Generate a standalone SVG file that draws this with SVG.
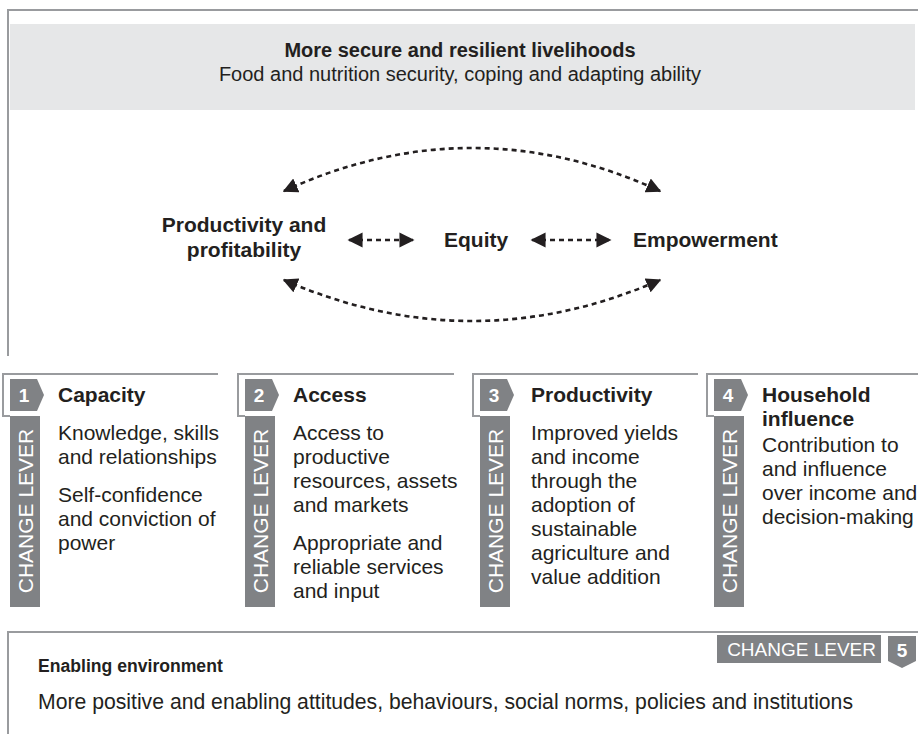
<svg xmlns="http://www.w3.org/2000/svg" width="918" height="734" viewBox="0 0 918 734">
<defs>
<style>
text{font-family:"Liberation Sans",Arial,sans-serif;fill:#231f20}
.b{font-weight:bold}
.t20{font-size:20px}
.t21{font-size:21px}
.frame{fill:none;stroke:#999b9e;stroke-width:2}
.bar{fill:#808285}
.wt{fill:#ffffff;font-size:21px}
.wt19{fill:#ffffff;font-size:19px}
.num{fill:#ffffff;font-size:19px;font-weight:bold}
.dash{fill:none;stroke:#231f20;stroke-width:2.6;stroke-dasharray:5 4}
</style>
<marker id="ah" viewBox="0 0 10 10" refX="9" refY="5" markerWidth="5.8" markerHeight="5.8" orient="auto-start-reverse" markerUnits="strokeWidth">
<path d="M0,0 L10,5 L0,10 z" fill="#231f20"/>
</marker>
</defs>
<rect width="918" height="734" fill="#ffffff"/>

<g id="outcome">
<path class="frame" d="M8 356 V10 H918"/>
<rect x="10" y="24" width="905" height="86" fill="#e6e7e8"/>
<text class="b t20" x="460" y="57" text-anchor="middle">More secure and resilient livelihoods</text>
<text class="t20" x="460" y="81" text-anchor="middle">Food and nutrition security, coping and adapting ability</text>
</g>

<g id="productivity-profitability">
<text class="b t21" x="244" y="232" text-anchor="middle">Productivity and</text>
<text class="b t21" x="244" y="257" text-anchor="middle">profitability</text>
</g>
<g id="equity">
<text class="b t21" x="444" y="247">Equity</text>
</g>
<g id="empowerment">
<text class="b t21" x="633" y="247">Empowerment</text>
</g>

<g id="connectors">
<path class="dash" d="M349 240 H413" marker-start="url(#ah)" marker-end="url(#ah)"/>
<path class="dash" d="M532 240 H610" marker-start="url(#ah)" marker-end="url(#ah)"/>
<path class="dash" d="M284 191 Q472 105 660 191" marker-start="url(#ah)" marker-end="url(#ah)"/>
<path class="dash" d="M284 280 Q472 362 660 280" marker-start="url(#ah)" marker-end="url(#ah)"/>
</g>

<g id="lever1">
<path class="frame" d="M10 416 H3 V374 H218"/>
<rect class="bar" x="10" y="416" width="30" height="191"/>
<path class="bar" d="M10 379 H37 L44 395 L37 411 H10 z"/>
<text class="num" x="24" y="402" text-anchor="middle">1</text>
<text class="wt" transform="translate(32.5 511) rotate(-90)" text-anchor="middle">CHANGE LEVER</text>
<text class="b t21" x="58" y="402">Capacity</text>
<text class="t21" x="58"><tspan x="58" y="440">Knowledge, skills</tspan><tspan x="58" y="464">and relationships</tspan><tspan x="58" y="502">Self-confidence</tspan><tspan x="58" y="526">and conviction of</tspan><tspan x="58" y="550">power</tspan></text>
</g>

<g id="lever2">
<path class="frame" d="M245 416 H238 V374 H454"/>
<rect class="bar" x="245" y="416" width="30" height="191"/>
<path class="bar" d="M245 379 H272 L279 395 L272 411 H245 z"/>
<text class="num" x="259" y="402" text-anchor="middle">2</text>
<text class="wt" transform="translate(267.5 511) rotate(-90)" text-anchor="middle">CHANGE LEVER</text>
<text class="b t21" x="293" y="402">Access</text>
<text class="t21"><tspan x="293" y="440">Access to</tspan><tspan x="293" y="464">productive</tspan><tspan x="293" y="488">resources, assets</tspan><tspan x="293" y="512">and markets</tspan><tspan x="293" y="550">Appropriate and</tspan><tspan x="293" y="574">reliable services</tspan><tspan x="293" y="598">and input</tspan></text>
</g>

<g id="lever3">
<path class="frame" d="M480 416 H473 V374 H698"/>
<rect class="bar" x="480" y="416" width="30" height="191"/>
<path class="bar" d="M480 379 H507 L514 395 L507 411 H480 z"/>
<text class="num" x="494" y="402" text-anchor="middle">3</text>
<text class="wt" transform="translate(502.5 511) rotate(-90)" text-anchor="middle">CHANGE LEVER</text>
<text class="b t21" x="531" y="402">Productivity</text>
<text class="t21"><tspan x="531" y="440">Improved yields</tspan><tspan x="531" y="464">and income</tspan><tspan x="531" y="488">through the</tspan><tspan x="531" y="512">adoption of</tspan><tspan x="531" y="536">sustainable</tspan><tspan x="531" y="560">agriculture and</tspan><tspan x="531" y="584">value addition</tspan></text>
</g>

<g id="lever4">
<path class="frame" d="M714 416 H707 V374 H918"/>
<rect class="bar" x="714" y="416" width="30" height="191"/>
<path class="bar" d="M714 379 H741 L748 395 L741 411 H714 z"/>
<text class="num" x="728" y="402" text-anchor="middle">4</text>
<text class="wt" transform="translate(736.5 511) rotate(-90)" text-anchor="middle">CHANGE LEVER</text>
<text class="b t21"><tspan x="762" y="402">Household</tspan><tspan x="762" y="426">influence</tspan></text>
<text class="t21"><tspan x="762" y="452">Contribution to</tspan><tspan x="762" y="476">and influence</tspan><tspan x="762" y="500">over income and</tspan><tspan x="762" y="524">decision-making</tspan></text>
</g>

<g id="lever5">
<path class="frame" d="M8 734 V632 H918"/>
<rect class="bar" x="717" y="635" width="164" height="28"/>
<text class="wt19" x="876" y="656" text-anchor="end">CHANGE LEVER</text>
<path class="bar" d="M888 636 H916 V661 L902 668 L888 661 z"/>
<text class="num" x="902" y="657" text-anchor="middle">5</text>
<text class="b" x="38" y="672" font-size="17.6">Enabling environment</text>
<text x="38" y="709" font-size="21.2">More positive and enabling attitudes, behaviours, social norms, policies and institutions</text>
</g>
</svg>
